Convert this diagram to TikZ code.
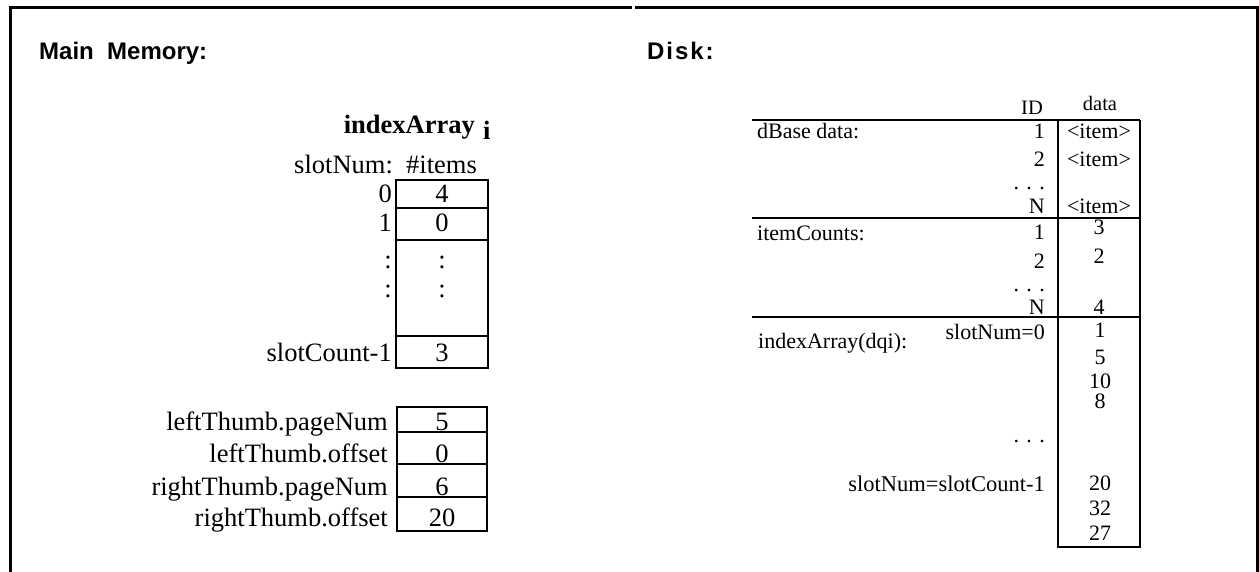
\documentclass[tikz,border=0pt]{standalone}
\usepackage{fontspec}
\setmainfont{Liberation Serif}
\setsansfont{Liberation Sans}
\begin{document}
\begin{tikzpicture}[x=1pt,y=-1pt,
  frame/.style={line width=3pt},
  box/.style={line width=2.6pt},
  tline/.style={line width=2.8pt},
  mm/.style={inner sep=0pt,font=\fontsize{26.5}{28}\selectfont},
  dk/.style={inner sep=0pt,font=\fontsize{22}{24}\selectfont},
  hd/.style={inner sep=0pt,font=\sffamily\bfseries\fontsize{24}{26}\selectfont},
  ]
\useasboundingbox (0,0) rectangle (1259,572);
% frame
\draw[frame] (10,572) -- (10,8) -- (632,8);
\draw[frame] (635,8) -- (1257,8) -- (1257,572);
% headings
\node[hd,anchor=base west] (mainmem) at (39,60) {Main\ \ Memory:};
\node[hd,anchor=base west,font=\sffamily\bfseries\fontsize{24}{26}\selectfont\addfontfeature{LetterSpace=8}] (disk) at (647,60) {Disk:};
% ---------- main memory
\node[mm,anchor=base east,font=\bfseries\fontsize{26.5}{28}\selectfont] (iaTitle) at (475,134) {indexArray};
\node[mm,anchor=base west,font=\bfseries\fontsize{26.5}{28}\selectfont] (iaSub) at (483,140) {i};
\node[mm,anchor=base east] (slotHdr) at (477,174) {slotNum:\ \ \#items};
\draw[box] (396,180) rectangle (488,368);
\draw[box] (396,208) -- (488,208);
\draw[box] (396,240) -- (488,240);
\draw[box] (396,336) -- (488,336);
\node[mm,anchor=base east] (s0) at (392,203) {0};
\node[mm,anchor=base east] (s1) at (392,232) {1};
\node[mm,anchor=base east] (s2) at (392,269) {:};
\node[mm,anchor=base east] (s3) at (392,298) {:};
\node[mm,anchor=base east] (sl) at (392,361) {slotCount-1};
\node[mm,anchor=base] (v0) at (442,203) {4};
\node[mm,anchor=base] (v1) at (442,232) {0};
\node[mm,anchor=base] (v2) at (442,269) {:};
\node[mm,anchor=base] (v3) at (442,298) {:};
\node[mm,anchor=base] (vl) at (442,361) {3};
% thumbs
\draw[box] (397,407) rectangle (487,531);
\draw[box] (397,432) -- (487,432);
\draw[box] (397,464) -- (487,464);
\draw[box] (397,497) -- (487,497);
\node[mm,anchor=base east] (ltp) at (388,430) {leftThumb.pageNum};
\node[mm,anchor=base east] (lto) at (388,462) {leftThumb.offset};
\node[mm,anchor=base east] (rtp) at (388,495) {rightThumb.pageNum};
\node[mm,anchor=base east] (rto) at (388,526) {rightThumb.offset};
\node[mm,anchor=base] (ltpv) at (442,430) {5};
\node[mm,anchor=base] (ltov) at (442,462) {0};
\node[mm,anchor=base] (rtpv) at (442,495) {6};
\node[mm,anchor=base] (rtov) at (442,526) {20};
% ---------- disk
\node[dk,anchor=base,font=\fontsize{20.5}{22}\selectfont] (idh) at (1032,115) {ID};
\node[dk,anchor=base,font=\fontsize{20.5}{22}\selectfont] (datah) at (1100,111) {data};
\draw[tline] (752,120) -- (1140,120);
\draw[tline] (752,218) -- (1140,218);
\draw[tline] (752,317) -- (1140,317);
\draw[tline] (1058,120) -- (1058,547) -- (1140,547) -- (1140,120);
% dBase data
\node[dk,anchor=base west] (dbl) at (757,139) {dBase data:};
\node[dk,anchor=base east] (d1) at (1045,139) {1};
\node[dk,anchor=base east] (d2) at (1045,167) {2};
\node[dk,anchor=base east] (dd) at (1045,190) {. . .};
\node[dk,anchor=base east] (dN) at (1045,214) {N};
\node[dk,anchor=base] (di1) at (1099,139) {<item>};
\node[dk,anchor=base] (di2) at (1099,167) {<item>};
\node[dk,anchor=base] (diN) at (1099,214) {<item>};
% itemCounts
\node[dk,anchor=base west] (icl) at (757,241) {itemCounts:};
\node[dk,anchor=base east] (c1) at (1045,240) {1};
\node[dk,anchor=base east] (c2) at (1045,269) {2};
\node[dk,anchor=base east] (cd) at (1045,291) {. . .};
\node[dk,anchor=base east] (cN) at (1045,314) {N};
\node[dk,anchor=base] (cv1) at (1099,235) {3};
\node[dk,anchor=base] (cv2) at (1099,264) {2};
\node[dk,anchor=base] (cvN) at (1099,314) {4};
% indexArray(dqi)
\node[dk,anchor=base west] (ial) at (758,348) {indexArray(dqi):};
\node[dk,anchor=base east] (sn0) at (1045,339) {slotNum=0};
\node[dk,anchor=base east] (snd) at (1045,442) {. . .};
\node[dk,anchor=base east,font=\fontsize{22.5}{24}\selectfont] (snl) at (1045,491) {slotNum=slotCount-1};
\node[dk,anchor=base] (x1) at (1100,337) {1};
\node[dk,anchor=base] (x2) at (1100,364) {5};
\node[dk,anchor=base] (x3) at (1100,388) {10};
\node[dk,anchor=base] (x4) at (1100,408) {8};
\node[dk,anchor=base] (x5) at (1100,490) {20};
\node[dk,anchor=base] (x6) at (1100,515) {32};
\node[dk,anchor=base] (x7) at (1100,540) {27};
\end{tikzpicture}
\end{document}
